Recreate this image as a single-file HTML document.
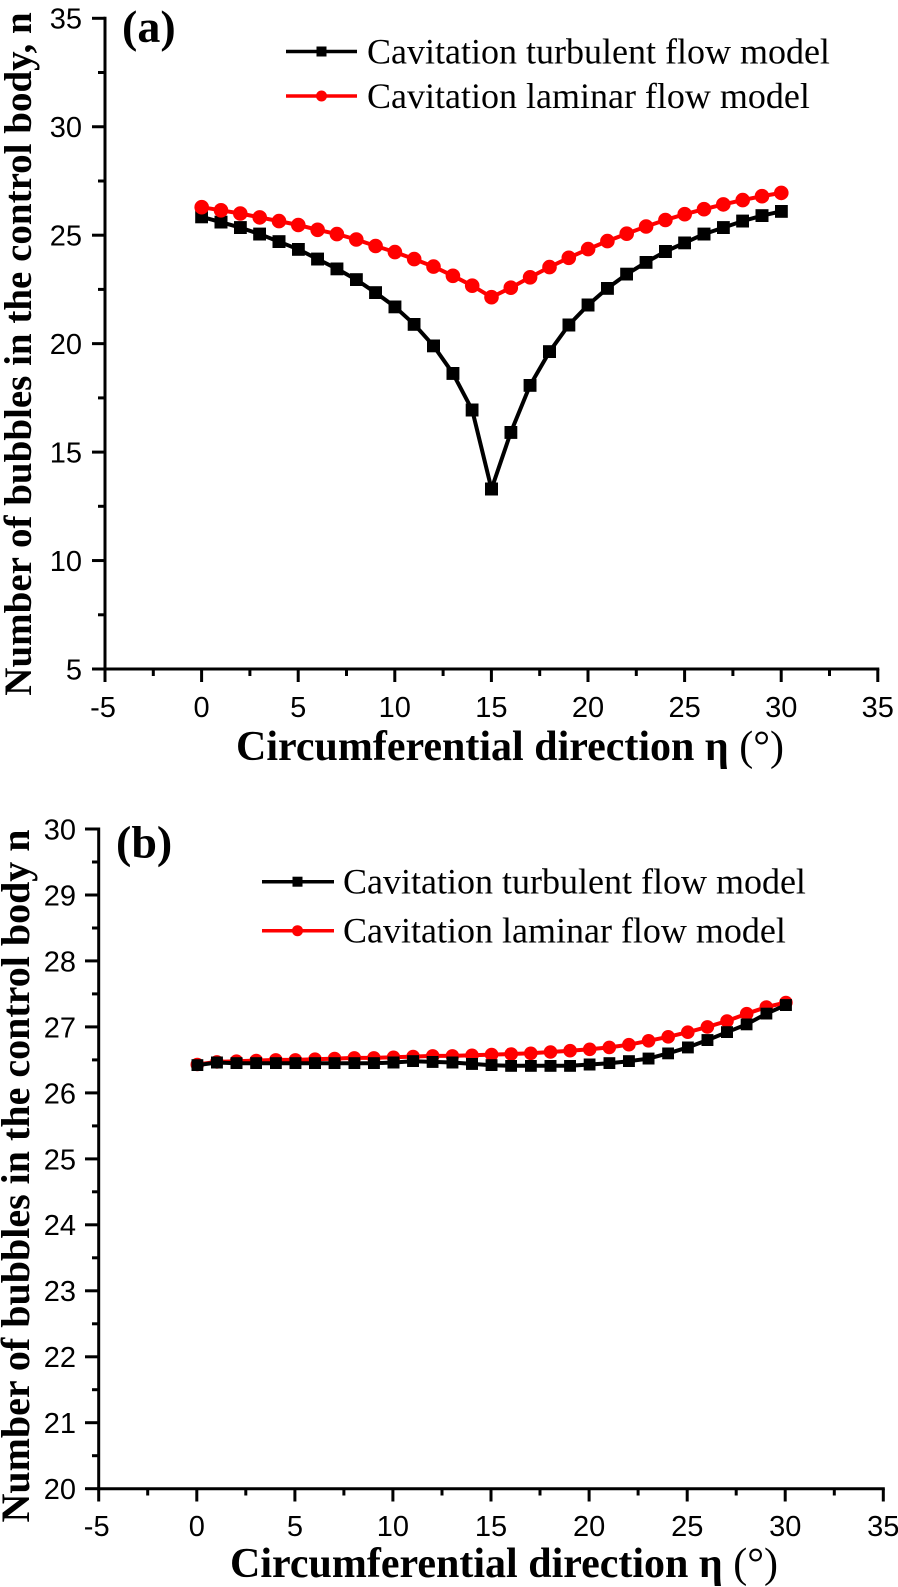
<!DOCTYPE html>
<html>
<head>
<meta charset="utf-8">
<style>
html,body{margin:0;padding:0;background:#fff;}
svg{display:block;}
.tk{font-family:"Liberation Sans",Arial,sans-serif;font-size:29px;fill:#000;}
.lg{font-family:"Liberation Serif","Times New Roman",serif;font-size:36px;fill:#000;}
.ax{font-family:"Liberation Serif","Times New Roman",serif;font-weight:bold;fill:#000;}
</style>
</head>
<body>
<svg width="898" height="1587" viewBox="0 0 898 1587" xmlns="http://www.w3.org/2000/svg">
<defs>
<marker id="sqA" markerWidth="13" markerHeight="13" refX="6.5" refY="6.5" markerUnits="userSpaceOnUse"><rect width="13" height="13" fill="#000"/></marker>
<marker id="ciA" markerWidth="15" markerHeight="15" refX="7.5" refY="7.5" markerUnits="userSpaceOnUse"><circle cx="7.5" cy="7.5" r="7.3" fill="#ff0000"/></marker>
<marker id="sqB" markerWidth="12" markerHeight="12" refX="6" refY="6" markerUnits="userSpaceOnUse"><rect width="12" height="12" fill="#000"/></marker>
<marker id="ciB" markerWidth="14" markerHeight="14" refX="7" refY="7" markerUnits="userSpaceOnUse"><circle cx="7" cy="7" r="6.8" fill="#ff0000"/></marker>
</defs>
<rect width="898" height="1587" fill="#fff"/>

<!-- ================= PANEL (a) ================= -->
<g stroke="#000" stroke-width="3" fill="none">
<line x1="105" y1="16.8" x2="105" y2="670.5"/>
<line x1="103.5" y1="669" x2="879.3" y2="669"/>
<line x1="92" y1="18.3" x2="105" y2="18.3"/>
<line x1="92" y1="126.75" x2="105" y2="126.75"/>
<line x1="92" y1="235.2" x2="105" y2="235.2"/>
<line x1="92" y1="343.65" x2="105" y2="343.65"/>
<line x1="92" y1="452.1" x2="105" y2="452.1"/>
<line x1="92" y1="560.55" x2="105" y2="560.55"/>
<line x1="92" y1="669" x2="105" y2="669"/>
<line x1="98" y1="72.5" x2="105" y2="72.5"/>
<line x1="98" y1="181" x2="105" y2="181"/>
<line x1="98" y1="289.4" x2="105" y2="289.4"/>
<line x1="98" y1="397.9" x2="105" y2="397.9"/>
<line x1="98" y1="506.3" x2="105" y2="506.3"/>
<line x1="98" y1="614.8" x2="105" y2="614.8"/>
<line x1="105" y1="669" x2="105" y2="682"/>
<line x1="201.6" y1="669" x2="201.6" y2="682"/>
<line x1="298.2" y1="669" x2="298.2" y2="682"/>
<line x1="394.8" y1="669" x2="394.8" y2="682"/>
<line x1="491.4" y1="669" x2="491.4" y2="682"/>
<line x1="588" y1="669" x2="588" y2="682"/>
<line x1="684.6" y1="669" x2="684.6" y2="682"/>
<line x1="781.2" y1="669" x2="781.2" y2="682"/>
<line x1="877.8" y1="669" x2="877.8" y2="682"/>
<line x1="153.3" y1="669" x2="153.3" y2="676"/>
<line x1="249.9" y1="669" x2="249.9" y2="676"/>
<line x1="346.5" y1="669" x2="346.5" y2="676"/>
<line x1="443.1" y1="669" x2="443.1" y2="676"/>
<line x1="539.7" y1="669" x2="539.7" y2="676"/>
<line x1="636.3" y1="669" x2="636.3" y2="676"/>
<line x1="732.9" y1="669" x2="732.9" y2="676"/>
<line x1="829.5" y1="669" x2="829.5" y2="676"/>
</g>
<g class="tk" text-anchor="end">
<text x="82" y="28.7">35</text>
<text x="82" y="137.2">30</text>
<text x="82" y="245.6">25</text>
<text x="82" y="354.1">20</text>
<text x="82" y="462.5">15</text>
<text x="82" y="571">10</text>
<text x="82" y="679.4">5</text>
</g>
<g class="tk" text-anchor="middle">
<text x="103" y="717">-5</text>
<text x="201.6" y="717">0</text>
<text x="298.2" y="717">5</text>
<text x="394.8" y="717">10</text>
<text x="491.4" y="717">15</text>
<text x="588" y="717">20</text>
<text x="684.6" y="717">25</text>
<text x="781.2" y="717">30</text>
<text x="877.8" y="717">35</text>
</g>
<text class="ax" x="122" y="42" font-size="46">(a)</text>
<text class="ax" font-size="39" text-anchor="middle" transform="translate(31,354) rotate(-90)">Number of bubbles in the control body, n</text>
<text class="ax" x="236" y="760" font-size="42">Circumferential direction η <tspan font-weight="normal">(°)</tspan></text>

<polyline fill="none" stroke="#000" stroke-width="4" stroke-linejoin="round" marker-start="url(#sqA)" marker-mid="url(#sqA)" marker-end="url(#sqA)"
points="201.7,216.8 221.0,222.2 240.3,227.6 259.7,234.1 279.0,241.7 298.3,249.3 317.6,259.1 336.9,268.8 356.3,279.7 375.6,292.7 394.9,306.8 414.2,324.3 433.5,345.8 452.9,373.4 472.2,410.0 491.5,489.0 510.8,432.4 530.1,385.3 549.5,351.7 568.8,325.0 588.1,305.0 607.4,288.3 626.7,274.2 646.1,262.3 665.4,251.5 684.7,242.8 704.0,234.1 723.3,227.6 742.7,221.1 762.0,215.7 781.3,211.3"/>
<polyline fill="none" stroke="#ff0000" stroke-width="4" stroke-linejoin="round" marker-start="url(#ciA)" marker-mid="url(#ciA)" marker-end="url(#ciA)"
points="201.7,207.2 221.0,210.3 240.3,213.5 259.7,217.4 279.0,221.1 298.3,225.0 317.6,229.8 336.9,234.1 356.3,239.5 375.6,246.0 394.9,252.1 414.2,259.1 433.5,266.6 452.9,275.8 472.2,285.7 491.5,297.2 510.8,287.7 530.1,277.3 549.5,267.1 568.8,257.8 588.1,249.1 607.4,241.1 626.7,233.7 646.1,226.5 665.4,220.0 684.7,214.2 704.0,209.2 723.3,204.4 742.7,200.1 762.0,196.2 781.3,192.9"/>

<line x1="286" y1="51.5" x2="357" y2="51.5" stroke="#000" stroke-width="3.5"/>
<rect x="316.5" y="46.5" width="10" height="10" fill="#000"/>
<text class="lg" x="367" y="63.5">Cavitation turbulent flow model</text>
<line x1="286" y1="96" x2="357" y2="96" stroke="#ff0000" stroke-width="3.5"/>
<circle cx="321.5" cy="96" r="5.5" fill="#ff0000"/>
<text class="lg" x="367" y="108">Cavitation laminar flow model</text>

<!-- ================= PANEL (b) ================= -->
<g stroke="#000" stroke-width="3" fill="none">
<line x1="98.7" y1="827.5" x2="98.7" y2="1490.2"/>
<line x1="97.2" y1="1488.7" x2="884.8" y2="1488.7"/>
<line x1="85" y1="829" x2="98.7" y2="829"/>
<line x1="85" y1="895" x2="98.7" y2="895"/>
<line x1="85" y1="960.9" x2="98.7" y2="960.9"/>
<line x1="85" y1="1026.9" x2="98.7" y2="1026.9"/>
<line x1="85" y1="1092.9" x2="98.7" y2="1092.9"/>
<line x1="85" y1="1158.9" x2="98.7" y2="1158.9"/>
<line x1="85" y1="1224.8" x2="98.7" y2="1224.8"/>
<line x1="85" y1="1290.8" x2="98.7" y2="1290.8"/>
<line x1="85" y1="1356.8" x2="98.7" y2="1356.8"/>
<line x1="85" y1="1422.7" x2="98.7" y2="1422.7"/>
<line x1="85" y1="1488.7" x2="98.7" y2="1488.7"/>
<line x1="92" y1="862" x2="98.7" y2="862"/>
<line x1="92" y1="928" x2="98.7" y2="928"/>
<line x1="92" y1="993.9" x2="98.7" y2="993.9"/>
<line x1="92" y1="1059.9" x2="98.7" y2="1059.9"/>
<line x1="92" y1="1125.9" x2="98.7" y2="1125.9"/>
<line x1="92" y1="1191.8" x2="98.7" y2="1191.8"/>
<line x1="92" y1="1257.8" x2="98.7" y2="1257.8"/>
<line x1="92" y1="1323.8" x2="98.7" y2="1323.8"/>
<line x1="92" y1="1389.7" x2="98.7" y2="1389.7"/>
<line x1="92" y1="1455.7" x2="98.7" y2="1455.7"/>
<line x1="98.7" y1="1488.7" x2="98.7" y2="1501.5"/>
<line x1="196.8" y1="1488.7" x2="196.8" y2="1501.5"/>
<line x1="294.9" y1="1488.7" x2="294.9" y2="1501.5"/>
<line x1="392.9" y1="1488.7" x2="392.9" y2="1501.5"/>
<line x1="491" y1="1488.7" x2="491" y2="1501.5"/>
<line x1="589.1" y1="1488.7" x2="589.1" y2="1501.5"/>
<line x1="687.2" y1="1488.7" x2="687.2" y2="1501.5"/>
<line x1="785.2" y1="1488.7" x2="785.2" y2="1501.5"/>
<line x1="883.3" y1="1488.7" x2="883.3" y2="1501.5"/>
<line x1="147.7" y1="1488.7" x2="147.7" y2="1495.5"/>
<line x1="245.8" y1="1488.7" x2="245.8" y2="1495.5"/>
<line x1="343.9" y1="1488.7" x2="343.9" y2="1495.5"/>
<line x1="442" y1="1488.7" x2="442" y2="1495.5"/>
<line x1="540" y1="1488.7" x2="540" y2="1495.5"/>
<line x1="638.1" y1="1488.7" x2="638.1" y2="1495.5"/>
<line x1="736.2" y1="1488.7" x2="736.2" y2="1495.5"/>
<line x1="834.3" y1="1488.7" x2="834.3" y2="1495.5"/>
</g>
<g class="tk" text-anchor="end">
<text x="76" y="839.4">30</text>
<text x="76" y="905.4">29</text>
<text x="76" y="971.3">28</text>
<text x="76" y="1037.3">27</text>
<text x="76" y="1103.3">26</text>
<text x="76" y="1169.3">25</text>
<text x="76" y="1235.2">24</text>
<text x="76" y="1301.2">23</text>
<text x="76" y="1367.2">22</text>
<text x="76" y="1433.1">21</text>
<text x="76" y="1499.1">20</text>
</g>
<g class="tk" text-anchor="middle">
<text x="96.7" y="1536">-5</text>
<text x="196.8" y="1536">0</text>
<text x="294.9" y="1536">5</text>
<text x="392.9" y="1536">10</text>
<text x="491" y="1536">15</text>
<text x="589.1" y="1536">20</text>
<text x="687.2" y="1536">25</text>
<text x="785.2" y="1536">30</text>
<text x="883.3" y="1536">35</text>
</g>
<text class="ax" x="116" y="857.3" font-size="46">(b)</text>
<text class="ax" font-size="40" text-anchor="middle" transform="translate(29,1176) rotate(-90)">Number of bubbles in the control body n</text>
<text class="ax" x="230" y="1577" font-size="42">Circumferential direction η <tspan font-weight="normal">(°)</tspan></text>

<polyline fill="none" stroke="#ff0000" stroke-width="4" stroke-linejoin="round" marker-start="url(#ciB)" marker-mid="url(#ciB)" marker-end="url(#ciB)"
points="197.3,1064.5 216.9,1061.9 236.5,1061.2 256.2,1060.6 275.8,1059.9 295.4,1059.9 315.0,1059.2 334.6,1058.6 354.3,1057.9 373.9,1057.9 393.5,1057.3 413.1,1056.6 432.7,1055.9 452.4,1055.9 472.0,1055.3 491.6,1054.6 511.2,1054.0 530.8,1053.3 550.5,1052.0 570.1,1050.7 589.7,1049.3 609.3,1047.4 628.9,1044.7 648.6,1040.8 668.2,1036.8 687.8,1032.2 707.4,1026.9 727.0,1021.0 746.7,1013.7 766.3,1007.1 785.9,1002.5"/>
<polyline fill="none" stroke="#000" stroke-width="4" stroke-linejoin="round" marker-start="url(#sqB)" marker-mid="url(#sqB)" marker-end="url(#sqB)"
points="197.3,1065.2 216.9,1062.5 236.5,1063.2 256.2,1063.2 275.8,1063.2 295.4,1063.2 315.0,1063.2 334.6,1063.2 354.3,1063.2 373.9,1063.2 393.5,1062.5 413.1,1061.2 432.7,1061.9 452.4,1062.5 472.0,1063.9 491.6,1065.2 511.2,1065.8 530.8,1065.8 550.5,1065.8 570.1,1065.8 589.7,1064.5 609.3,1063.2 628.9,1061.2 648.6,1058.6 668.2,1053.3 687.8,1047.4 707.4,1040.1 727.0,1032.2 746.7,1024.3 766.3,1013.7 785.9,1005.1"/>

<line x1="262" y1="881.7" x2="334" y2="881.7" stroke="#000" stroke-width="3.5"/>
<rect x="292.5" y="876.7" width="10" height="10" fill="#000"/>
<text class="lg" x="343" y="893.7">Cavitation turbulent flow model</text>
<line x1="262" y1="930.7" x2="334" y2="930.7" stroke="#ff0000" stroke-width="3.5"/>
<circle cx="297.5" cy="930.7" r="5.5" fill="#ff0000"/>
<text class="lg" x="343" y="942.7">Cavitation laminar flow model</text>
</svg>
</body>
</html>
